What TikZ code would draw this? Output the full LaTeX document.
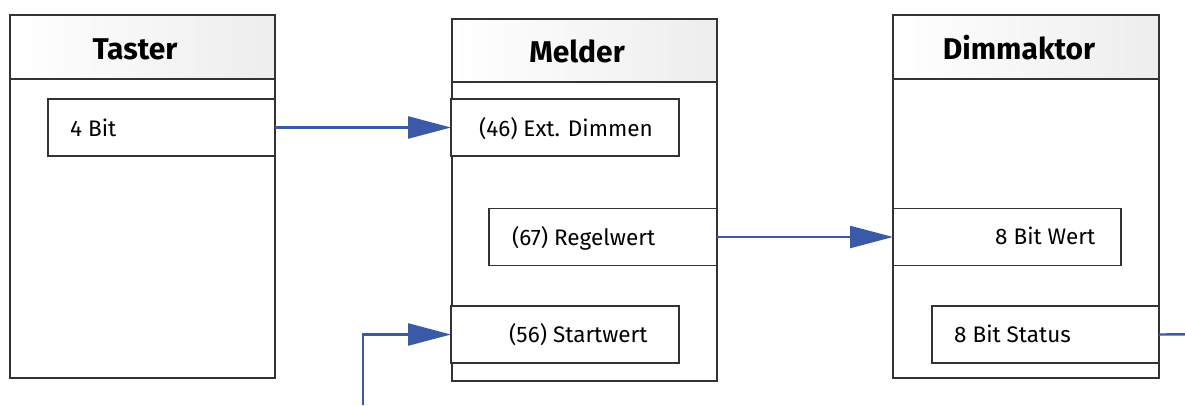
\documentclass[tikz,border=0pt]{standalone}
\usepackage{fontspec}
\setmainfont{Fira Sans}
\usetikzlibrary{arrows.meta}
\definecolor{linkblue}{HTML}{3A5AA8}
\definecolor{boxline}{HTML}{333333}
\tikzset{
  box/.style={draw=boxline, line width=1.4pt, fill=white, anchor=north west, inner sep=0pt, outer sep=0pt},
  headbox/.style={box, left color=white, right color=black!7},
  headtxt/.style={anchor=base, inner sep=0pt, font=\fontsize{30}{34}\selectfont\bfseries},
  bodytxt/.style={anchor=base west, inner sep=0pt, font=\fontsize{22.5}{26}\selectfont},
  link/.style={draw=linkblue, line width=2.4pt, -{Triangle[length=43pt,width=22pt]}},
  linkplain/.style={draw=linkblue, line width=2.4pt}
}
\begin{document}
\begin{tikzpicture}[x=1pt,y=-1pt]
\useasboundingbox (0,0) rectangle (1185,405);
% Taster
\node[box, minimum width=265pt, minimum height=363pt] (taster) at (10,15) {};
\node[headbox, minimum width=265pt, minimum height=64pt] (tasterhead) at (10,15) {};
\node[headtxt] (tastertxt) at (135,59) {Taster};
\node[box, minimum width=227pt, minimum height=57pt] (bitfour) at (48,99) {};
\node[bodytxt] (bitfourtxt) at (70,136) {4 Bit};
% Melder
\node[box, minimum width=265pt, minimum height=362pt] (melder) at (452,19) {};
\node[headbox, minimum width=265pt, minimum height=63pt] (melderhead) at (452,19) {};
\node[headtxt] (meldertxt) at (577,62) {Melder};
\node[box, minimum width=228pt, minimum height=57pt] (extdim) at (451,99) {};
\node[bodytxt] (extdimtxt) at (479,136) {(46) Ext. Dimmen};
\node[box, minimum width=228pt, minimum height=57pt] (regel) at (489,208.5) {};
\node[bodytxt] (regeltxt) at (512,245) {(67) Regelwert};
\node[box, minimum width=228pt, minimum height=57pt] (start) at (451,306) {};
\node[bodytxt] (starttxt) at (509,342) {(56) Startwert};
% Dimmaktor
\node[box, minimum width=266pt, minimum height=363pt] (dimm) at (893,15) {};
\node[headbox, minimum width=266pt, minimum height=64pt] (dimmhead) at (893,15) {};
\node[headtxt] (dimmtxt) at (1019,59) {Dimmaktor};
\node[box, minimum width=228pt, minimum height=57pt] (wert) at (893,208.5) {};
\node[bodytxt] (werttxt) at (995,244) {8 Bit Wert};
\node[box, minimum width=227pt, minimum height=57pt] (status) at (932,306) {};
\node[bodytxt] (statustxt) at (954,342) {8 Bit Status};
% connectors
\coordinate (startin) at (362.7,405);
\coordinate (statusout) at (1185,334.3);
\draw[link] (bitfour.east) -- (extdim.west);
\draw[link] (regel.east) -- (wert.west);
\draw[link] (startin) |- (start.west);
\draw[linkplain] (status.east) -- (statusout);
\end{tikzpicture}
\end{document}
